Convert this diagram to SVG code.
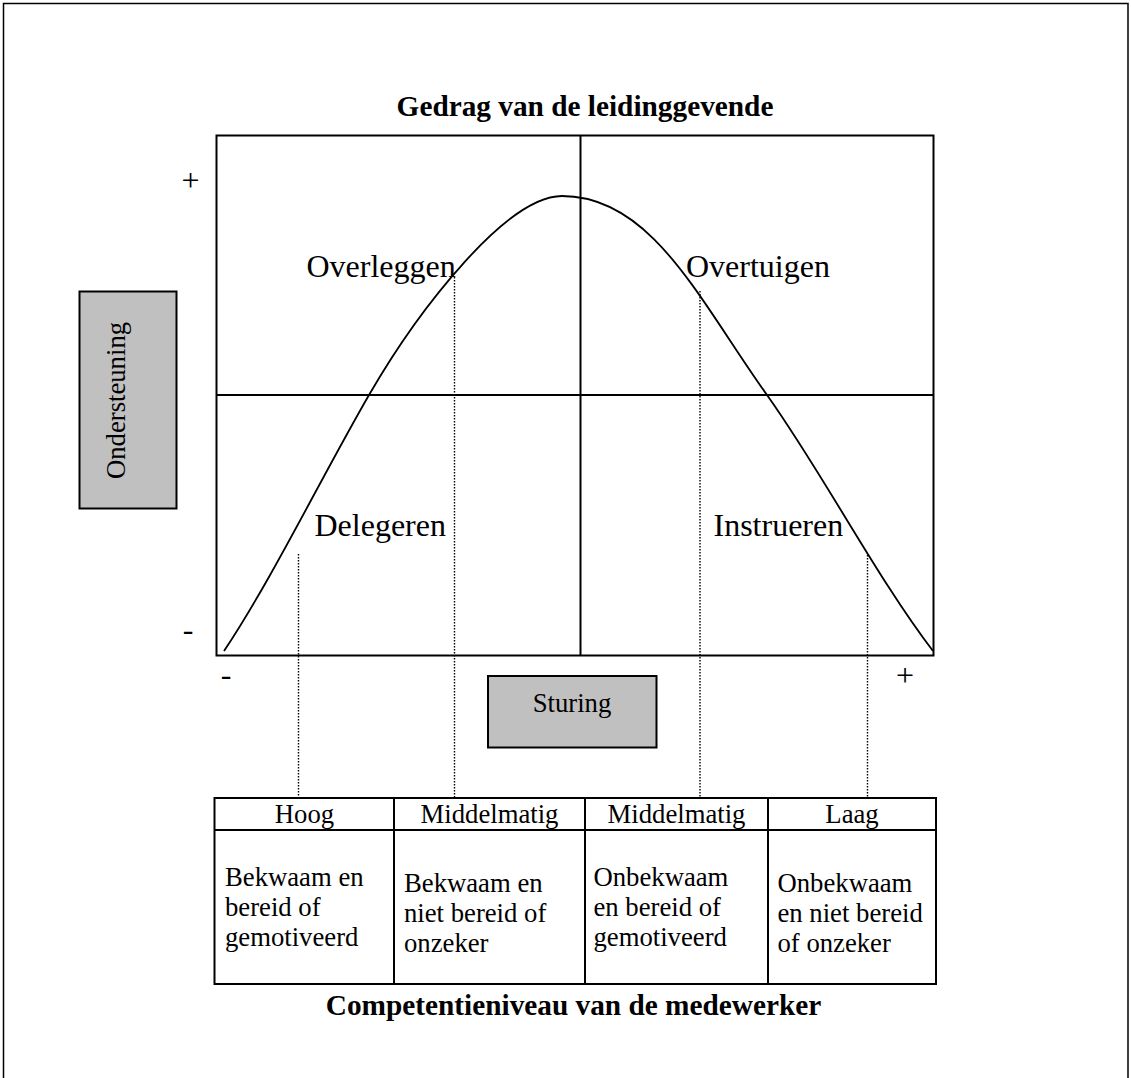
<svg xmlns="http://www.w3.org/2000/svg" width="1131" height="1078" viewBox="0 0 1131 1078">
  <style>
    .serif { font-family: "Liberation Serif", "Times New Roman", serif; fill: #000; }
    .title { font-size: 29.3px; font-weight: bold; text-anchor: middle; }
    .quad { font-size: 32px; }
    .sign { font-size: 32px; text-anchor: middle; }
    .cell { font-size: 26.7px; }
    .head { font-size: 26.7px; text-anchor: middle; }
    .frame { fill: none; stroke: #000; stroke-width: 2; }
    .gridline { fill: none; stroke: #000; stroke-width: 2; }
    .graybox { fill: #c0c0c0; stroke: #000; stroke-width: 2; }
    .dotted { fill: none; stroke: #000; stroke-width: 1.4; stroke-dasharray: 1.5 1.5; }
    .tbl { fill: none; stroke: #000; stroke-width: 2; }
  </style>

  <!-- page border -->
  <path d="M3.5,1100 V3.5 H1128 V1100" fill="none" stroke="#000" stroke-width="1.5"/>

  <!-- heading -->
  <text class="serif title" x="585" y="116">Gedrag van de leidinggevende</text>

  <!-- quadrant chart -->
  <g id="chart">
    <rect class="frame" x="216.5" y="135.5" width="717" height="520"/>
    <line class="gridline" x1="580.5" y1="135.5" x2="580.5" y2="655.5"/>
    <line class="gridline" x1="216.5" y1="395" x2="933.5" y2="395"/>
    <path id="curve" fill="none" stroke="#000" stroke-width="1.8"
      d="M224,651 C272.3,578.5 320.7,478.6 369,395
         C419,308.5 507,196 562,196
         C652,196 699,299.8 767,395
         C822,472 878,579.5 933,651"/>
    <text class="serif quad" x="306.5" y="277">Overleggen</text>
    <text class="serif quad" x="686" y="277">Overtuigen</text>
    <text class="serif quad" x="314.5" y="536">Delegeren</text>
    <text class="serif quad" x="713.5" y="536">Instrueren</text>
  </g>

  <!-- axis ends -->
  <g id="axis-signs">
    <text class="serif sign" x="190.5" y="191">+</text>
    <text class="serif sign" x="188" y="640">-</text>
    <text class="serif sign" x="226" y="685">-</text>
    <text class="serif sign" x="905" y="686">+</text>
  </g>

  <!-- axis captions -->
  <g id="ondersteuning">
    <rect class="graybox" x="79.5" y="291.5" width="97" height="217"/>
    <text class="serif cell" transform="translate(125,400.5) rotate(-90)" text-anchor="middle">Ondersteuning</text>
  </g>
  <g id="sturing">
    <rect class="graybox" x="488" y="676" width="168.5" height="71.5"/>
    <text class="serif head" x="572" y="712">Sturing</text>
  </g>

  <!-- drop lines from the curve to the competence table -->
  <g id="connectors">
    <line class="dotted" x1="298.5" y1="554" x2="298.5" y2="797"/>
    <line class="dotted" x1="454.5" y1="277" x2="454.5" y2="797"/>
    <line class="dotted" x1="700" y1="291" x2="700" y2="797"/>
    <line class="dotted" x1="867.5" y1="555" x2="867.5" y2="797"/>
  </g>

  <!-- competence table -->
  <g id="table">
    <rect class="tbl" x="214.5" y="798" width="721.5" height="186"/>
    <line class="tbl" x1="214.5" y1="830" x2="936" y2="830"/>
    <line class="tbl" x1="394" y1="798" x2="394" y2="984"/>
    <line class="tbl" x1="585" y1="798" x2="585" y2="984"/>
    <line class="tbl" x1="768" y1="798" x2="768" y2="984"/>

    <g id="col-hoog">
      <text class="serif head" x="304.5" y="823">Hoog</text>
      <text class="serif cell" x="225" y="886">Bekwaam en</text>
      <text class="serif cell" x="225" y="916">bereid of</text>
      <text class="serif cell" x="225" y="946">gemotiveerd</text>
    </g>
    <g id="col-middel-1">
      <text class="serif head" x="489.5" y="823">Middelmatig</text>
      <text class="serif cell" x="404" y="892">Bekwaam en</text>
      <text class="serif cell" x="404" y="922">niet bereid of</text>
      <text class="serif cell" x="404" y="952">onzeker</text>
    </g>
    <g id="col-middel-2">
      <text class="serif head" x="676.5" y="823">Middelmatig</text>
      <text class="serif cell" x="593.5" y="886">Onbekwaam</text>
      <text class="serif cell" x="593.5" y="916">en bereid of</text>
      <text class="serif cell" x="593.5" y="946">gemotiveerd</text>
    </g>
    <g id="col-laag">
      <text class="serif head" x="852" y="823">Laag</text>
      <text class="serif cell" x="777.5" y="892">Onbekwaam</text>
      <text class="serif cell" x="777.5" y="922">en niet bereid</text>
      <text class="serif cell" x="777.5" y="952">of onzeker</text>
    </g>
  </g>

  <text class="serif title" x="573.5" y="1015">Competentieniveau van de medewerker</text>
</svg>
